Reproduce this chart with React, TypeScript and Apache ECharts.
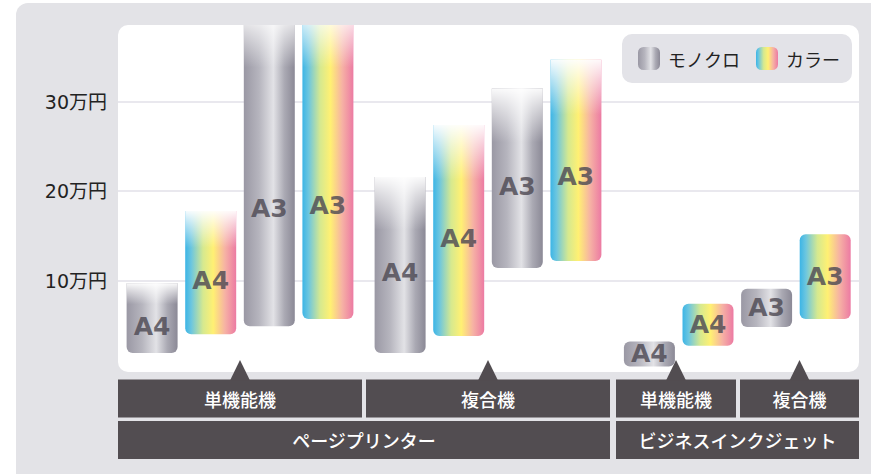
import React, { useEffect, useRef } from "react";
import * as echarts from "echarts";

// ---- data ----
const yMax = 38.6;
const yInterval = 10;
const yUnit = "万円";
const seriesNames = ["モノクロ", "カラー"];
const printerTypes = ["ページプリンター", "ビジネスインクジェット"];
const subGroups = ["単機能機", "複合機", "単機能機", "複合機"];
const subGroupPrinter = [0, 0, 1, 1];

const barGroup = [0, 0, 0, 0, 1, 1, 1, 1, 2, 2, 3, 3];
const barKind = [0, 1, 0, 1, 0, 1, 0, 1, 0, 1, 0, 1]; // 0 mono, 1 color
const barSize = ["A4", "A4", "A3", "A3", "A4", "A4", "A3", "A3", "A4", "A4", "A3", "A3"];
const barLow = [1.9, 4.0, 4.9, 5.7, 1.9, 3.8, 11.4, 12.2, 0.4, 2.7, 4.8, 5.7];
const barHigh = [9.7, 17.8, 40, 40, 21.6, 27.4, 31.5, 34.7, 3.2, 7.4, 9.1, 15.2];

// ---- layout ----
const W = 871;
const H = 474;
const plotL = 118;
const plotR = 859;
const plotT = 25;
const zeroY = 370;
const slotW = 58.6;
const gridCenters = [240, 488, 737.3 - slotW, 737.3 + slotW];
const row1 = [
  [118, 362],
  [366, 610],
  [616, 736],
  [740, 859],
];
const row2 = [
  [118, 610],
  [616, 859],
];
const row1Y = [379.5, 417.5];
const row2Y = [421, 459];
const boxColor = "#524d51";
const jp = '"Noto Sans CJK JP", "Noto Sans", sans-serif';

const monoGrad = () =>
  new echarts.graphic.LinearGradient(0, 0, 1, 0, [
    { offset: 0, color: "#9a98a4" },
    { offset: 0.3, color: "#b6b5be" },
    { offset: 0.58, color: "#e2e2e6" },
    { offset: 0.8, color: "#aaa9b3" },
    { offset: 1, color: "#8b8996" },
  ]);
const colorGrad = () =>
  new echarts.graphic.LinearGradient(0, 0, 1, 0, [
    { offset: 0, color: "#3cb5e6" },
    { offset: 0.12, color: "#6cc6df" },
    { offset: 0.35, color: "#d6e98f" },
    { offset: 0.55, color: "#fff073" },
    { offset: 0.78, color: "#f6b2a4" },
    { offset: 1, color: "#ec7aa3" },
  ]);

function buildOption() {
  const groupCount = subGroups.length;
  const slotsPerGroup = subGroups.map((_, g) => barGroup.filter((b) => b === g).length);

  const grids: any[] = [
    { left: plotL, top: plotT, width: plotR - plotL, height: zeroY - plotT },
  ];
  const xAxes: any[] = [{ gridIndex: 0, type: "category", data: [""], show: false }];
  const yAxes: any[] = [
    {
      gridIndex: 0,
      type: "value",
      min: 0,
      max: yMax,
      interval: yInterval,
      axisLine: { show: false },
      axisTick: { show: false },
      axisLabel: {
        margin: 11,
        fontSize: 19,
        color: "#222",
        fontFamily: '"DejaVu Sans", "Noto Sans CJK JP"',
        formatter: (v: number) => (v > 0 && v % yInterval === 0 ? v + yUnit : ""),
      },
      splitLine: {
        show: true,
        showMinLine: false,
        showMaxLine: false,
        lineStyle: { color: "#e2e1e8", width: 1.5 },
      },
    },
  ];

  for (let g = 0; g < groupCount; g++) {
    const n = slotsPerGroup[g];
    grids.push({
      left: gridCenters[g] - (n * slotW) / 2,
      top: plotT,
      width: n * slotW,
      height: zeroY - plotT,
    });
    xAxes.push({
      gridIndex: g + 1,
      type: "category",
      data: barSize.filter((_, i) => barGroup[i] === g),
      show: false,
    });
    yAxes.push({
      gridIndex: g + 1,
      type: "value",
      min: 0,
      max: yMax,
      show: false,
      splitLine: { show: false },
    });
  }

  const renderItem = (params: any, api: any) => {
    const slot = api.value(0);
    const lo = api.value(1);
    const hi = api.value(2);
    const idx = api.value(3);
    const kind = barKind[idx];
    const isPage = subGroupPrinter[barGroup[idx]] === 0;
    const pLo = api.coord([slot, lo]);
    const pHi = api.coord([slot, hi]);
    const w = api.size([1, 0])[0] * 0.87;
    const x = pLo[0] - w / 2;
    const y = pHi[1];
    const h = pLo[1] - pHi[1];
    const r = isPage ? [0, 0, 6, 6] : 6;
    const children: any[] = [
      {
        type: "rect",
        shape: { x, y, width: w, height: h, r },
        style: { fill: kind === 0 ? monoGrad() : colorGrad() },
      },
    ];
    let ly = (pLo[1] + pHi[1]) / 2;
    if (isPage) {
      const fade = Math.min(0.3 * h, 55) / h;
      children.push({
        type: "rect",
        shape: { x, y, width: w, height: h, r },
        style: {
          fill: new echarts.graphic.LinearGradient(0, 0, 0, 1, [
            { offset: 0, color: "rgba(255,255,255,0.95)" },
            { offset: fade * 0.35, color: "rgba(255,255,255,0.6)" },
            { offset: fade, color: "rgba(255,255,255,0)" },
            { offset: 1, color: "rgba(255,255,255,0)" },
          ]),
        },
      });
      const visTop = api.coord([slot, Math.min(hi, 33)])[1];
      ly = (visTop + pLo[1]) / 2 + 8;
    }
    children.push({
      type: "text",
      style: {
        text: barSize[idx],
        x: pLo[0],
        y: ly,
        align: "center",
        verticalAlign: "middle",
        textAlign: "center",
        textVerticalAlign: "middle",
        fontSize: 25,
        fontWeight: "bold",
        fontFamily: '"DejaVu Sans", sans-serif',
        fill: "rgba(78,74,84,0.82)",
      },
    });
    return { type: "group", children };
  };

  const series: any[] = [];
  for (let g = 0; g < groupCount; g++) {
    const idxs = barGroup.map((b, i) => (b === g ? i : -1)).filter((i) => i >= 0);
    for (let k = 0; k < 2; k++) {
      const data = idxs
        .map((i, slot) => (barKind[i] === k ? [slot, barLow[i], barHigh[i], i] : null))
        .filter((d) => d !== null);
      series.push({
        type: "custom",
        name: seriesNames[k],
        xAxisIndex: g + 1,
        yAxisIndex: g + 1,
        clip: true,
        itemStyle: { color: k === 0 ? monoGrad() : colorGrad() },
        encode: { x: 0, y: [1, 2] },
        data,
        renderItem,
      });
    }
  }

  const graphic: any[] = [
    {
      type: "rect",
      z: -20,
      shape: { x: 16, y: 3, width: W, height: H + 20, r: [12, 0, 0, 0] },
      style: { fill: "#e3e3e7" },
    },
    {
      type: "rect",
      z: -19,
      shape: { x: plotL, y: plotT, width: plotR - plotL, height: 347, r: 10 },
      style: { fill: "#ffffff" },
    },
  ];
  row1.forEach(([a, b], i) => {
    const cx = (a + b) / 2;
    graphic.push({
      type: "rect",
      shape: { x: a, y: row1Y[0], width: b - a, height: row1Y[1] - row1Y[0] },
      style: { fill: boxColor },
    });
    graphic.push({
      type: "polygon",
      shape: {
        points: [
          [cx, 360],
          [cx - 10, row1Y[0] + 1],
          [cx + 10, row1Y[0] + 1],
        ],
      },
      style: { fill: boxColor },
    });
    graphic.push({
      type: "text",
      style: {
        text: subGroups[i],
        x: cx,
        y: (row1Y[0] + row1Y[1]) / 2,
        align: "center",
        verticalAlign: "middle",
        textAlign: "center",
        textVerticalAlign: "middle",
        fontSize: 18,
        fontWeight: 500,
        fontFamily: jp,
        fill: "#ffffff",
      },
    });
  });
  row2.forEach(([a, b], i) => {
    graphic.push({
      type: "rect",
      shape: { x: a, y: row2Y[0], width: b - a, height: row2Y[1] - row2Y[0] },
      style: { fill: boxColor },
    });
    graphic.push({
      type: "text",
      style: {
        text: printerTypes[i],
        x: (a + b) / 2,
        y: (row2Y[0] + row2Y[1]) / 2,
        align: "center",
        verticalAlign: "middle",
        textAlign: "center",
        textVerticalAlign: "middle",
        fontSize: 18,
        fontWeight: 500,
        fontFamily: jp,
        fill: "#ffffff",
      },
    });
  });

  return {
    animation: false,
    backgroundColor: "#ffffff",
    textStyle: { fontFamily: jp },
    grid: grids,
    xAxis: xAxes,
    yAxis: yAxes,
    legend: {
      data: [
        { name: seriesNames[0], itemStyle: { color: monoGrad() } },
        { name: seriesNames[1], itemStyle: { color: colorGrad() } },
      ],
      selectedMode: false,
      right: 19,
      top: 34,
      orient: "horizontal",
      itemWidth: 22,
      itemHeight: 23,
      itemGap: 16,
      icon: "roundRect",
      backgroundColor: "#e3e3e8",
      borderRadius: 10,
      padding: [13, 12, 13, 16],
      textStyle: { fontSize: 18, color: "#222", fontFamily: jp, padding: [0, 0, 0, 3] },
    },
    graphic,
    series,
  };
}

export default function App() {
  const ref = useRef<HTMLDivElement>(null);
  useEffect(() => {
    if (!ref.current) return;
    const chart = echarts.init(ref.current, null, { renderer: "svg" });
    chart.setOption(buildOption());
    return () => chart.dispose();
  }, []);
  return (
    <div
      ref={ref}
      style={{ position: "fixed", left: 0, top: 0, width: W, height: H }}
    />
  );
}
